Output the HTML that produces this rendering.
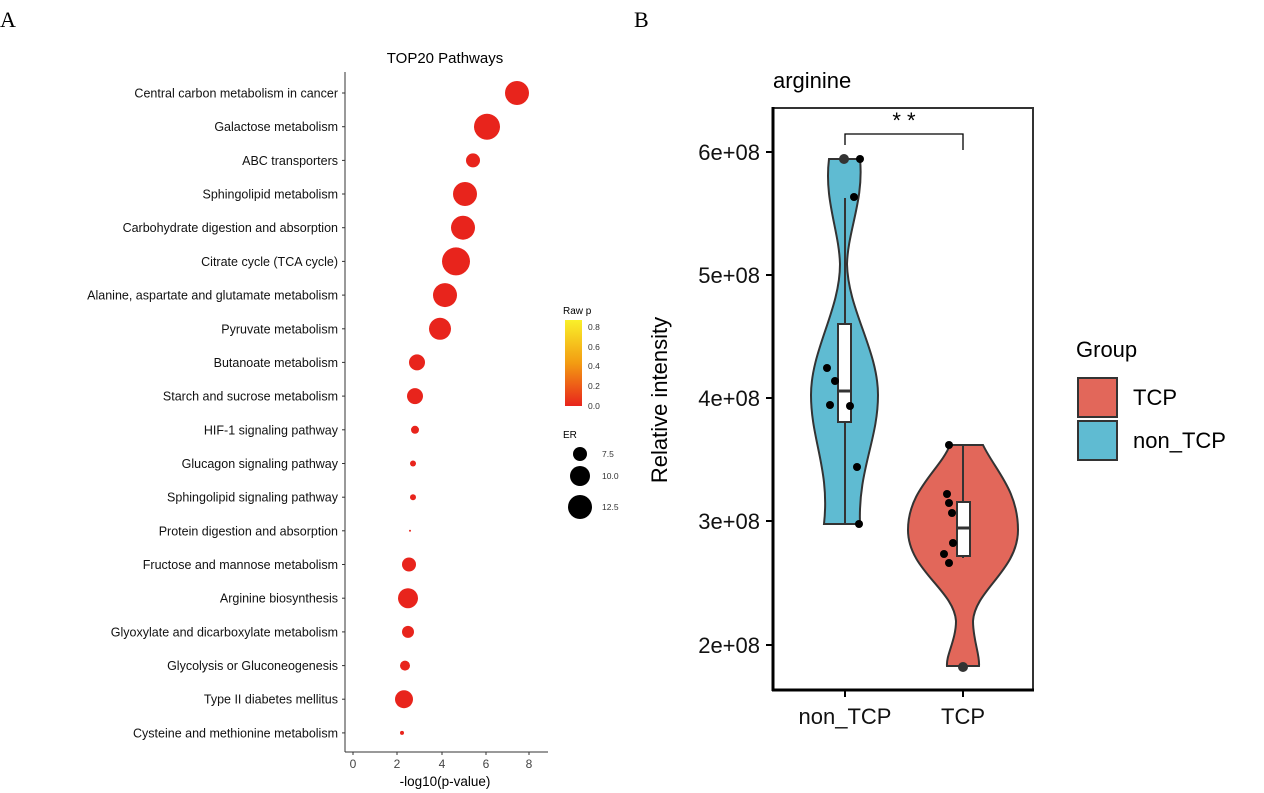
<!DOCTYPE html><html><head><style>body{margin:0;background:#fff}svg{display:block}</style></head><body>
<svg width="1264" height="793" xmlns="http://www.w3.org/2000/svg" font-family="Liberation Sans, sans-serif">
<defs><linearGradient id="g" x1="0" y1="1" x2="0" y2="0"><stop offset="0" stop-color="#e8241c"/><stop offset="0.5" stop-color="#f39c12"/><stop offset="1" stop-color="#f9f02a"/></linearGradient></defs>
<text x="0" y="27" font-family="Liberation Serif, serif" font-size="22">A</text>
<text x="634" y="27" font-family="Liberation Serif, serif" font-size="22">B</text>
<text x="445" y="63" font-size="15" text-anchor="middle">TOP20 Pathways</text>
<line x1="345" y1="72" x2="345" y2="752" stroke="#333"/>
<line x1="345" y1="752" x2="548" y2="752" stroke="#333"/>
<g stroke="#333"><line x1="353" y1="752" x2="353" y2="755"/><line x1="397" y1="752" x2="397" y2="755"/><line x1="442" y1="752" x2="442" y2="755"/><line x1="486" y1="752" x2="486" y2="755"/><line x1="529" y1="752" x2="529" y2="755"/></g>
<g stroke="#333"><line x1="342" y1="93" x2="345" y2="93"/><line x1="342" y1="126.7" x2="345" y2="126.7"/><line x1="342" y1="160.4" x2="345" y2="160.4"/><line x1="342" y1="194" x2="345" y2="194"/><line x1="342" y1="227.7" x2="345" y2="227.7"/><line x1="342" y1="261.4" x2="345" y2="261.4"/><line x1="342" y1="295.1" x2="345" y2="295.1"/><line x1="342" y1="328.8" x2="345" y2="328.8"/><line x1="342" y1="362.4" x2="345" y2="362.4"/><line x1="342" y1="396.1" x2="345" y2="396.1"/><line x1="342" y1="429.8" x2="345" y2="429.8"/><line x1="342" y1="463.5" x2="345" y2="463.5"/><line x1="342" y1="497.2" x2="345" y2="497.2"/><line x1="342" y1="530.8" x2="345" y2="530.8"/><line x1="342" y1="564.5" x2="345" y2="564.5"/><line x1="342" y1="598.2" x2="345" y2="598.2"/><line x1="342" y1="631.9" x2="345" y2="631.9"/><line x1="342" y1="665.6" x2="345" y2="665.6"/><line x1="342" y1="699.2" x2="345" y2="699.2"/><line x1="342" y1="732.9" x2="345" y2="732.9"/></g>
<g font-size="12.5" text-anchor="end" fill="#111">
<text x="338" y="97.5">Central carbon metabolism in cancer</text>
<text x="338" y="131.2">Galactose metabolism</text>
<text x="338" y="164.9">ABC transporters</text>
<text x="338" y="198.5">Sphingolipid metabolism</text>
<text x="338" y="232.2">Carbohydrate digestion and absorption</text>
<text x="338" y="265.9">Citrate cycle (TCA cycle)</text>
<text x="338" y="299.6">Alanine, aspartate and glutamate metabolism</text>
<text x="338" y="333.3">Pyruvate metabolism</text>
<text x="338" y="366.9">Butanoate metabolism</text>
<text x="338" y="400.6">Starch and sucrose metabolism</text>
<text x="338" y="434.3">HIF-1 signaling pathway</text>
<text x="338" y="468">Glucagon signaling pathway</text>
<text x="338" y="501.7">Sphingolipid signaling pathway</text>
<text x="338" y="535.3">Protein digestion and absorption</text>
<text x="338" y="569">Fructose and mannose metabolism</text>
<text x="338" y="602.7">Arginine biosynthesis</text>
<text x="338" y="636.4">Glyoxylate and dicarboxylate metabolism</text>
<text x="338" y="670.1">Glycolysis or Gluconeogenesis</text>
<text x="338" y="703.7">Type II diabetes mellitus</text>
<text x="338" y="737.4">Cysteine and methionine metabolism</text>
</g>
<g fill="#e8241c">
<circle cx="517" cy="93" r="12"/><circle cx="487" cy="126.7" r="13"/><circle cx="473" cy="160.4" r="7"/>
<circle cx="465" cy="194" r="12"/><circle cx="463" cy="227.7" r="12"/><circle cx="456" cy="261.4" r="14"/>
<circle cx="445" cy="295.1" r="12"/><circle cx="440" cy="328.8" r="11"/><circle cx="417" cy="362.4" r="8"/>
<circle cx="415" cy="396.1" r="8"/><circle cx="415" cy="429.8" r="4"/><circle cx="413" cy="463.5" r="3"/>
<circle cx="413" cy="497.2" r="3"/><circle cx="410" cy="530.8" r="1"/><circle cx="409" cy="564.5" r="7"/>
<circle cx="408" cy="598.2" r="10"/><circle cx="408" cy="631.9" r="6"/><circle cx="405" cy="665.6" r="5"/>
<circle cx="404" cy="699.2" r="9"/><circle cx="402" cy="732.9" r="2"/>
</g>
<g font-size="12" fill="#444" text-anchor="middle">
<text x="353" y="768">0</text><text x="397" y="768">2</text><text x="442" y="768">4</text><text x="486" y="768">6</text><text x="529" y="768">8</text>
</g>
<text x="445" y="786" font-size="13.5" text-anchor="middle">-log10(p-value)</text>
<text x="563" y="314" font-size="10">Raw p</text>
<rect x="565" y="320" width="17" height="86" fill="url(#g)"/>
<g font-size="8.5" fill="#333"><text x="588" y="330">0.8</text><text x="588" y="350">0.6</text><text x="588" y="369">0.4</text><text x="588" y="389">0.2</text><text x="588" y="409">0.0</text></g>
<text x="563" y="438" font-size="10">ER</text>
<circle cx="580" cy="454" r="7"/><circle cx="580" cy="476" r="10"/><circle cx="580" cy="507" r="12"/>
<g font-size="8.5" fill="#333"><text x="602" y="457">7.5</text><text x="602" y="479">10.0</text><text x="602" y="510">12.5</text></g>

<text x="773" y="88" font-size="22">arginine</text>
<rect x="773" y="108" width="260" height="582" fill="none" stroke="#333" stroke-width="2"/>
<line x1="773" y1="107" x2="773" y2="691" stroke="#000" stroke-width="3"/>
<line x1="772" y1="690" x2="1034" y2="690" stroke="#000" stroke-width="3"/>
<path d="M829,159 L860,159 C864,200 848,230 847,264 C848,310 878,350 878,395 C878,440 858,470 860,524 L824,524 C830,470 811,440 811,395 C811,350 840,310 840,264 C839,230 824,200 829,159 Z" fill="#5fbbd2" stroke="#333" stroke-width="2"/>
<path d="M950,445 L983,445 C995,470 1018,490 1018,530 C1018,570 975,590 973,621 C973,640 980,655 979,666 L947,666 C946,655 956,640 956,621 C954,590 908,570 908,530 C908,490 940,470 950,445 Z" fill="#e2675a" stroke="#333" stroke-width="2"/>
<line x1="845" y1="198" x2="845" y2="524" stroke="#333" stroke-width="2"/>
<rect x="838" y="324" width="13" height="98" fill="#fff" stroke="#333" stroke-width="2"/>
<line x1="838" y1="391" x2="851" y2="391" stroke="#333" stroke-width="3"/>
<line x1="963" y1="445" x2="963" y2="558" stroke="#333" stroke-width="2"/>
<rect x="957" y="502" width="13" height="54" fill="#fff" stroke="#333" stroke-width="2"/>
<line x1="957" y1="528" x2="970" y2="528" stroke="#333" stroke-width="3"/>
<g fill="#000"><circle cx="844" cy="159" r="5" fill="#333"/><circle cx="860" cy="159" r="4"/><circle cx="854" cy="197" r="4"/><circle cx="827" cy="368" r="4"/><circle cx="835" cy="381" r="4"/><circle cx="830" cy="405" r="4"/><circle cx="850" cy="406" r="4"/><circle cx="857" cy="467" r="4"/><circle cx="859" cy="524" r="4"/>
<circle cx="949" cy="445" r="4"/><circle cx="947" cy="494" r="4"/><circle cx="949" cy="503" r="4"/><circle cx="952" cy="513" r="4"/><circle cx="953" cy="543" r="4"/><circle cx="944" cy="554" r="4"/><circle cx="949" cy="563" r="4"/><circle cx="963" cy="667" r="5" fill="#333"/></g>
<path d="M845,145 L845,134 L963,134 L963,150" fill="none" stroke="#000" stroke-width="1.3"/>
<text x="904" y="128" font-size="22" text-anchor="middle">* *</text>
<g stroke="#000" stroke-width="2"><line x1="766" y1="152" x2="773" y2="152"/><line x1="766" y1="275" x2="773" y2="275"/><line x1="766" y1="398" x2="773" y2="398"/><line x1="766" y1="521" x2="773" y2="521"/><line x1="766" y1="645" x2="773" y2="645"/><line x1="845" y1="690" x2="845" y2="697"/><line x1="963" y1="690" x2="963" y2="697"/></g>
<g font-size="22" text-anchor="end" fill="#111"><text x="760" y="160">6e+08</text><text x="760" y="283">5e+08</text><text x="760" y="406">4e+08</text><text x="760" y="529">3e+08</text><text x="760" y="653">2e+08</text></g>
<g font-size="22" text-anchor="middle" fill="#111"><text x="845" y="724">non_TCP</text><text x="963" y="724">TCP</text></g>
<text transform="translate(667,400) rotate(-90)" font-size="22" text-anchor="middle">Relative intensity</text>
<text x="1076" y="357" font-size="22">Group</text>
<rect x="1078" y="378" width="39" height="39" fill="#e2675a" stroke="#333" stroke-width="2"/>
<rect x="1078" y="421" width="39" height="39" fill="#5fbbd2" stroke="#333" stroke-width="2"/>
<text x="1133" y="405" font-size="22">TCP</text>
<text x="1133" y="448" font-size="22">non_TCP</text>
</svg></body></html>
